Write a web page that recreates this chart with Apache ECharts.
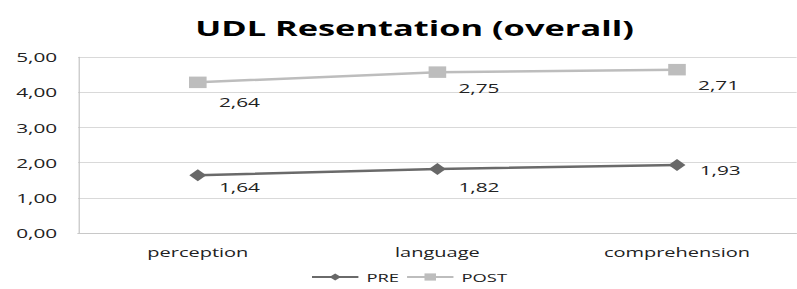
<!DOCTYPE html>
<html>
<head>
<meta charset="utf-8">
<script src="https://cdn.jsdelivr.net/npm/echarts@6/dist/echarts.min.js"></script>
<style>
  html, body { margin: 0; padding: 0; background: #fff; overflow: hidden; }
  /* the original picture is stretched sideways, so draw narrow and widen */
  #chart { width: 498px; height: 289px; transform: scaleX(1.6); transform-origin: 0 0; }
</style>
</head>
<body>
<div id="chart"></div>
<script>
// categories and values
const categories = ['perception', 'language', 'comprehension'];
const preValues = [1.64, 1.82, 1.93];
// POST is drawn stacked on PRE, its labels show the gain
const postGain = [2.64, 2.75, 2.71];
const yTicks = [0, 1, 2, 3, 4, 5];

// label offsets per point (Excel placed them a bit unevenly)
const preLabelOffsets = [[26, 11], [26, 18], [27, 5]];
const postLabelOffsets = [[26, 19], [26, 16], [26, 15]];

const fmt = v => v.toFixed(2).replace('.', ',');

function withOffsets(values, offsets) {
    return values.map((v, i) => ({ value: v, label: { offset: offsets[i] } }));
}

const chart = echarts.init(document.getElementById('chart'), null, { renderer: 'svg' });

const labelStyle = {
    show: true,
    position: 'inside',
    color: '#222',
    fontFamily: 'Open Sans',
    fontSize: 13,
    formatter: p => fmt(p.value)
};

chart.setOption({
    animation: false,
    title: {
        text: 'UDL Resentation (overall)',
        left: 117,
        top: 11,
        textStyle: { fontFamily: 'Open Sans', fontWeight: 'bold', fontSize: 21.5, color: '#000' }
    },
    grid: { left: 48.75, right: 0, top: 57, bottom: 56 },
    legend: {
        bottom: 1,
        left: 189,
        itemWidth: 29,
        itemHeight: 9,
        itemGap: 4,
        textStyle: { fontFamily: 'Open Sans', fontSize: 11.5, color: '#222' },
        data: ['PRE', 'POST']
    },
    xAxis: {
        type: 'category',
        data: categories,
        axisLine: { lineStyle: { color: '#c8c8c8' } },
        axisTick: { show: false },
        axisLabel: { fontFamily: 'Open Sans', fontSize: 12.5, color: '#222', margin: 13 }
    },
    yAxis: {
        type: 'value',
        min: yTicks[0],
        max: yTicks[yTicks.length - 1],
        interval: 1,
        axisLine: { show: true, lineStyle: { color: '#bfbfbf', width: 0.7 } },
        splitLine: { lineStyle: { color: '#d9d9d9' } },
        axisLabel: { fontFamily: 'Open Sans', fontSize: 13, color: '#222', margin: 13, formatter: v => fmt(v) }
    },
    series: [
        {
            name: 'PRE',
            type: 'line',
            stack: 'total',
            data: withOffsets(preValues, preLabelOffsets),
            symbol: 'diamond',
            symbolSize: [10.6, 12],
            itemStyle: { color: '#686868' },
            lineStyle: { color: '#6a6a6a', width: 2.5 },
            label: labelStyle
        },
        {
            name: 'POST',
            type: 'line',
            stack: 'total',
            data: withOffsets(postGain, postLabelOffsets),
            symbol: 'rect',
            symbolSize: [11, 11.5],
            itemStyle: { color: '#bdbdbd' },
            lineStyle: { color: '#bdbdbd', width: 2.5 },
            label: labelStyle
        }
    ]
});
</script>
</body>
</html>
